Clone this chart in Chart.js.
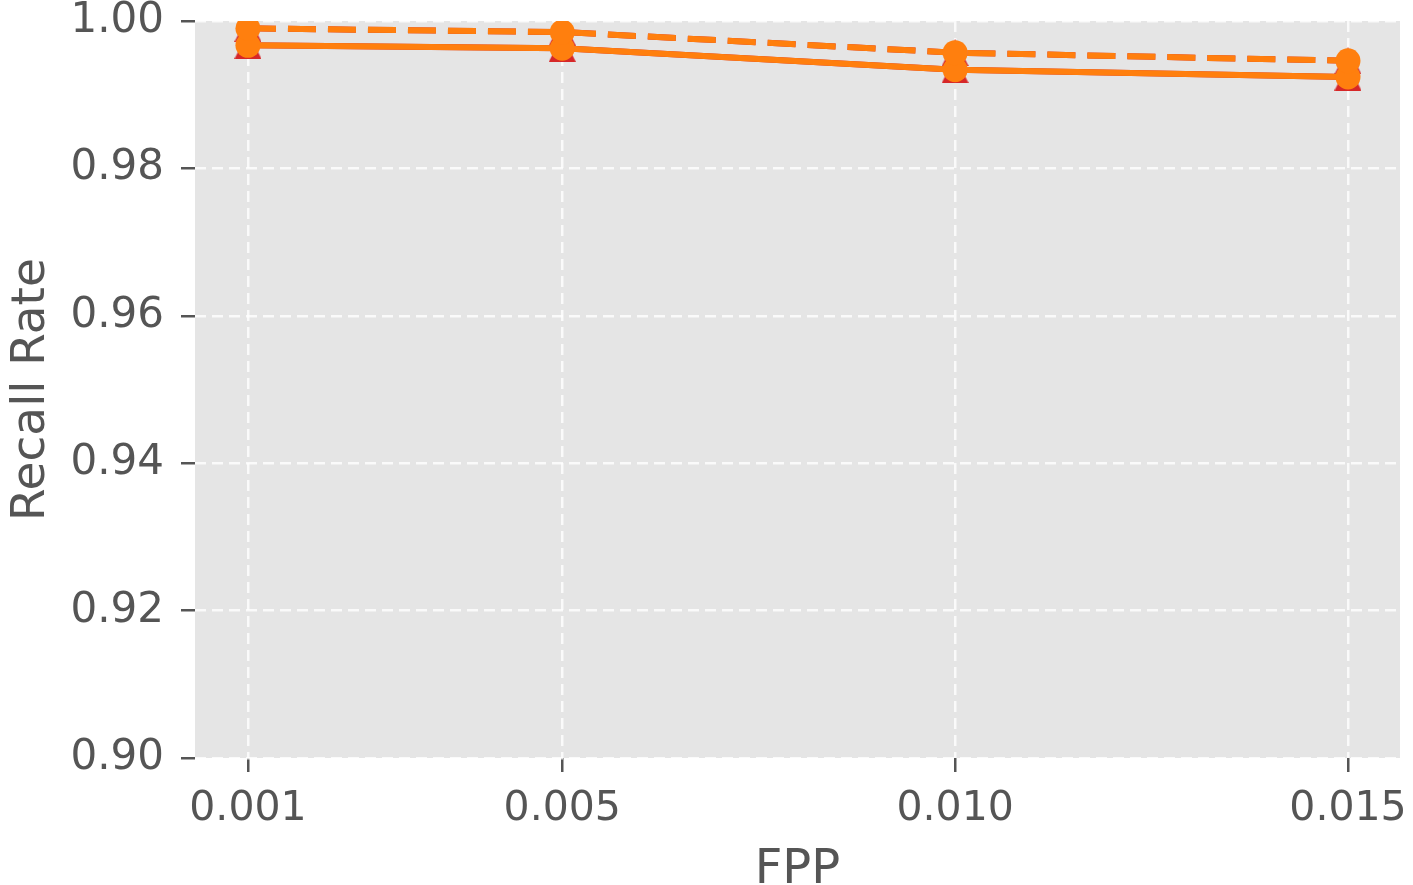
<!DOCTYPE html>
<html>
<head>
<meta charset="utf-8">
<script src="https://cdn.jsdelivr.net/npm/chart.js@4/dist/chart.umd.min.js"></script>
<style>
  html, body { margin: 0; padding: 0; background: #fff; }
  #wrap { width: 1413px; height: 885px; }
</style>
</head>
<body>
<div id="wrap"><canvas id="recallChart" width="1413" height="885"></canvas></div>
<script>
// FPP points and tick labels
const fpp = [0.001, 0.005, 0.010, 0.015];
const xTickLabels = ['0.001', '0.005', '0.010', '0.015'];
const yTicks = [0.90, 0.92, 0.94, 0.96, 0.98, 1.00];

// recall values
const redSolid = [0.9967, 0.9963, 0.9934, 0.9924];
const redDashed = [0.9990, 0.9985, 0.9957, 0.9946];
const orangeSolid = [0.9967, 0.9963, 0.9934, 0.9924];
const orangeDashed = [0.9990, 0.9985, 0.9957, 0.9946];

const ORANGE = '#ff7f0e';
const RED = '#d62728';
const TEXT = '#555555';

// matplotlib-like '^' marker
function makeTriangle(size, color) {
    const c = document.createElement('canvas');
    c.width = size; c.height = size;
    const g = c.getContext('2d');
    g.fillStyle = color;
    g.beginPath();
    g.moveTo(size / 2, 0);
    g.lineTo(size, size);
    g.lineTo(0, size);
    g.closePath();
    g.fill();
    return c;
}
const tri = makeTriangle(27, RED);

function toPoints(vals) {
    return vals.map((v, i) => ({ x: fpp[i], y: v }));
}

function series(vals, color, dashed, marker, order) {
    return {
        data: toPoints(vals),
        borderColor: color,
        backgroundColor: color,
        borderWidth: 6,
        borderDash: dashed ? [28, 12] : [],
        pointStyle: marker,
        pointRadius: 12.5,
        pointBorderWidth: 0,
        pointBackgroundColor: color,
        tension: 0,
        order: order
    };
}

// gray plotting area
const bgPlugin = {
    id: 'plotBg',
    beforeDraw(chart) {
        const a = chart.chartArea;
        const ctx = chart.ctx;
        ctx.save();
        ctx.fillStyle = '#e5e5e5';
        ctx.fillRect(a.left, a.top, a.right - a.left, a.bottom - a.top);
        ctx.restore();
    }
};

const gridOpts = {
    color: 'rgba(255,255,255,0.8)',
    lineWidth: 2.5,
    tickColor: TEXT,
    tickLength: 14,
    tickWidth: 2.5,
    tickBorderDash: []
};

const ctx = document.getElementById('recallChart').getContext('2d');

new Chart(ctx, {
    type: 'line',
    data: {
        datasets: [
            series(redSolid, RED, false, tri, 4),
            series(redDashed, RED, true, tri, 3),
            series(orangeSolid, ORANGE, false, 'circle', 2),
            series(orangeDashed, ORANGE, true, 'circle', 1)
        ]
    },
    options: {
        responsive: false,
        animation: false,
        devicePixelRatio: 1,
        layout: { padding: { top: 21, right: 13, left: 0, bottom: 0 } },
        plugins: {
            legend: { display: false },
            tooltip: { enabled: false }
        },
        scales: {
            x: {
                type: 'linear',
                min: 0.000326,
                max: 0.015662,
                afterBuildTicks(scale) {
                    scale.ticks = fpp.map(v => ({ value: v }));
                },
                afterFit(scale) {
                    scale.height = 127;
                    scale.paddingLeft = 0;
                    scale.paddingRight = 0;
                },
                ticks: {
                    autoSkip: false,
                    maxRotation: 0,
                    color: TEXT,
                    padding: 13,
                    font: { family: 'DejaVu Sans', size: 41 },
                    callback: (v) => {
                        const i = fpp.findIndex(f => Math.abs(f - v) < 1e-9);
                        return i >= 0 ? xTickLabels[i] : '';
                    }
                },
                grid: gridOpts,
                border: { display: false, dash: [11, 6] },
                title: {
                    display: true,
                    text: 'FPP',
                    color: TEXT,
                    font: { family: 'DejaVu Sans', size: 48, lineHeight: 0.6 },
                    padding: { top: 0, bottom: 0 }
                }
            },
            y: {
                min: 0.9,
                max: 1.0,
                afterBuildTicks(scale) {
                    scale.ticks = yTicks.map(v => ({ value: v }));
                },
                afterFit(scale) {
                    scale.width = 195;
                    scale.paddingTop = 0;
                    scale.paddingBottom = 0;
                },
                ticks: {
                    color: TEXT,
                    padding: 17,
                    font: { family: 'DejaVu Sans', size: 42 },
                    callback: (v) => v.toFixed(2)
                },
                grid: gridOpts,
                border: { display: false, dash: [11, 6] },
                title: {
                    display: true,
                    text: 'Recall Rate',
                    color: TEXT,
                    font: { family: 'DejaVu Sans', size: 47, lineHeight: 1.0 },
                    padding: { top: 8, bottom: 0 }
                }
            }
        }
    },
    plugins: [bgPlugin]
});
</script>
</body>
</html>
